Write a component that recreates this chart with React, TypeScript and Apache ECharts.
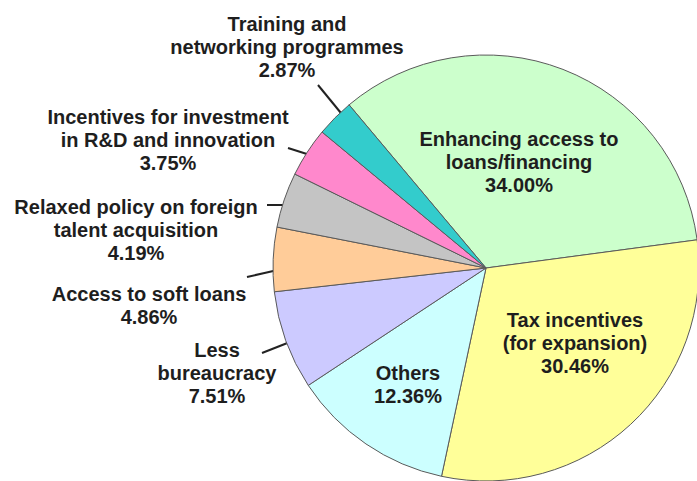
import React, { useEffect, useRef } from "react";
import * as echarts from "echarts";

// ---- Data ----
const CATEGORIES: string[] = [
  "Enhancing access to\nloans/financing",
  "Tax incentives\n(for expansion)",
  "Others",
  "Less\nbureaucracy",
  "Access to soft loans",
  "Relaxed policy on foreign\ntalent acquisition",
  "Incentives for investment\nin R&D and innovation",
  "Training and\nnetworking programmes",
];
const VALUES: number[] = [34.0, 30.46, 12.36, 7.51, 4.86, 4.19, 3.75, 2.87];

// ---- Styling / layout (not data) ----
const COLORS: string[] = [
  "#ccffcc",
  "#ffff99",
  "#ccffff",
  "#cccaff",
  "#ffcc99",
  "#c4c4c4",
  "#ff88cc",
  "#33cccc",
];
const INSIDE: boolean[] = [true, true, true, false, false, false, false, false];
const LABEL_POS: number[][] = [
  [519, 162],
  [575, 343],
  [408, 384],
  [217, 373],
  [149, 305],
  [136, 230],
  [168, 140],
  [287, 47],
];
const LEADERS: (number[][] | null)[] = [
  null,
  null,
  null,
  [[295, 340], [262, 353]],
  [[282, 269], [247, 277]],
  [[287, 205], [267, 205]],
  [[310, 155], [288, 148]],
  [[345, 118], [318, 85]],
];

export default function App() {
  const ref = useRef<HTMLDivElement>(null);

  useEffect(() => {
    if (!ref.current) return;
    const chart = echarts.init(ref.current, null, { renderer: "svg" });
    const data = VALUES.map((v, i) => ({
      name: CATEGORIES[i],
      value: v,
      itemStyle: { color: COLORS[i] },
      label: INSIDE[i] ? { position: "inside" } : { position: "outside" },
      labelLine: INSIDE[i] ? { show: false } : { show: true },
    }));
    chart.setOption({
      animation: false,
      backgroundColor: "#ffffff",
      series: [
        {
          type: "pie",
          center: [486, 268],
          radius: 213,
          startAngle: 130,
          clockwise: true,
          avoidLabelOverlap: false,
          emphasis: { disabled: true },
          itemStyle: { borderColor: "#5a5a5a", borderWidth: 1 },
          label: {
            show: true,
            formatter: (p: any) => `${p.name}\n${Number(p.value).toFixed(2)}%`,
            fontFamily: "'Liberation Sans', Arial, sans-serif",
            fontWeight: "bold",
            fontSize: 20,
            lineHeight: 23,
            color: "#1e1e1e",
            align: "center",
            width: 340,
            overflow: "none",
          },
          labelLine: {
            show: true,
            length: 10,
            length2: 0,
            lineStyle: { color: "#222222", width: 2 },
          },
          labelLayout: (p: any) => {
            const i = p.dataIndex;
            const pos = LABEL_POS[i];
            const out: any = {
              x: pos[0],
              y: pos[1],
              align: "center",
              verticalAlign: "middle",
            };
            const ld = LEADERS[i];
            if (ld) {
              const mid = [(ld[0][0] + ld[1][0]) / 2, (ld[0][1] + ld[1][1]) / 2];
              out.labelLinePoints = [ld[0], mid, ld[1]];
            }
            return out;
          },
          data,
        },
      ],
    });
    return () => chart.dispose();
  }, []);

  return (
    <div
      ref={ref}
      style={{ position: "absolute", left: 0, top: 0, width: 697, height: 481 }}
    />
  );
}
